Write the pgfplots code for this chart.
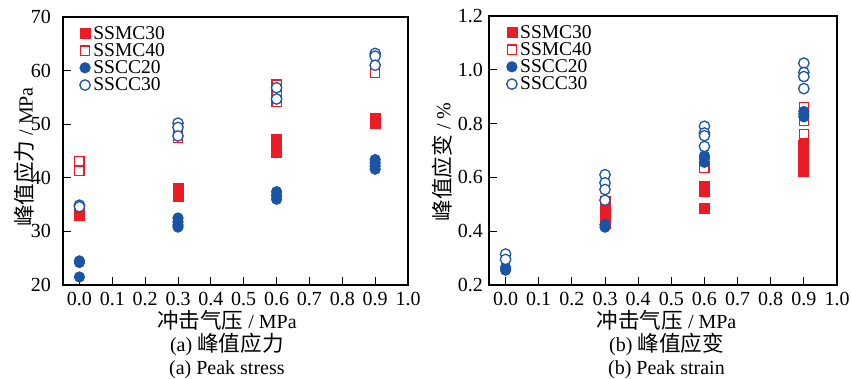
\documentclass[border=0pt]{standalone}
\usepackage{fontspec}
\setmainfont{Liberation Serif}
\newfontfamily\cjk{Noto Sans CJK SC}[Scale=1.08]
\usepackage{pgfplots}
\pgfplotsset{compat=1.18}
\newcommand\bigf{\fontsize{20bp}{24bp}\selectfont}
\newcommand\legf{\fontsize{19.5bp}{22bp}\selectfont}
\definecolor{cred}{RGB}{236,28,36}
\definecolor{cblue}{RGB}{26,84,166}
\pgfplotsset{
  myaxis/.style={
    scale only axis, clip=false,
    xmin=-0.05, xmax=1.0,
    xtick={0,0.1,0.2,0.3,0.4,0.5,0.6,0.7,0.8,0.9,1.0},
    xticklabel={\bigf\pgfmathprintnumber[fixed,fixed zerofill,precision=1,assume math mode=true]{\tick}},
    tick align=inside, xtick pos=bottom, ytick pos=left,
    major tick length=8bp,
    axis line style={line width=1.2bp},
    tick style={line width=1bp, black},
    /pgf/number format/assume math mode=true,
    tick label style={font=\bigf},
    label style={font=\bigf},
    xticklabel style={anchor=base, yshift=-20bp, inner sep=0pt},
    yticklabel style={anchor=east, inner sep=0pt},
    legend cell align=left,
    legend style={draw=none, fill=none, anchor=north west, row sep=2.8bp,
      column sep=3bp, inner sep=0pt, font=\legf, nodes={inner sep=0pt, font=\legf}},
    legend image code/.code={\draw[##1] plot coordinates {(0bp,0bp)};},
  },
  ssmc30/.style={only marks, mark=square*, mark size=5bp, mark options={fill=cred, draw=cred, line width=0.8bp}},
  ssmc40/.style={only marks, mark=square*, mark size=4.6bp, mark options={fill=white, draw=cred, line width=1.2bp}},
  sscc20/.style={only marks, mark=*, mark size=5.3bp, mark options={fill=cblue, draw=cblue, line width=0.6bp}},
  sscc30/.style={only marks, mark=*, mark size=5.2bp, mark options={fill=white, draw=cblue, line width=1.3bp}},
}
\begin{document}
\begin{tikzpicture}[font=\bigf]
\path[use as bounding box] (0,0) rectangle (851bp,379bp);
% ---------------- (a) Peak stress
\begin{axis}[myaxis,
  at={(63bp,94bp)}, anchor=south west,
  width=345bp, height=268bp,
  ymin=20, ymax=70, ytick={20,30,40,50,60,70},
  yticklabel style={xshift=-12bp},
  yticklabel={\bigf\pgfmathprintnumber[fixed,precision=0,assume math mode=true]{\tick}},
  ylabel={\bigf{\cjk 峰值应力} / MPa},
  ylabel style={at={(axis description cs:-0.1116,0.4776)}, anchor=center},
  xlabel={\bigf{\cjk 冲击气压} / MPa},
  xlabel style={at={(axis description cs:0.475,0)}, anchor=base, yshift=-43bp, inner sep=0pt},
  legend style={at={(axis description cs:0.048,0.967)}},
]
\addplot[ssmc30] coordinates {(0,32.9)(0,33.4)(0.3,38.1)(0.3,37.3)(0.3,36.6)(0.6,47.2)(0.6,46.3)(0.6,45.5)(0.6,44.8)(0.9,51.1)(0.9,50.6)(0.9,50.2)};
\addplot[ssmc40] coordinates {(0,43.1)(0,41.3)(0.3,48.5)(0.3,47.4)(0.6,57.4)(0.6,56.0)(0.6,54.1)(0.9,60.3)(0.9,59.5)};
\addplot[sscc20] coordinates {(0,24.5)(0,24.2)(0,21.5)(0.3,32.5)(0.3,31.8)(0.3,31.2)(0.3,30.8)(0.6,37.4)(0.6,36.7)(0.6,36.0)(0.9,43.4)(0.9,42.8)(0.9,42.2)(0.9,41.6)};
\addplot[sscc30] coordinates {(0,34.9)(0,34.6)(0.3,50.2)(0.3,49.4)(0.3,47.8)(0.6,56.8)(0.6,54.7)(0.9,63.2)(0.9,62.7)(0.9,61.0)};
\legend{{\legf SSMC30},{\legf SSMC40},{\legf SSCC20},{\legf SSCC30}}
\node[anchor=base, inner sep=0pt, font=\bigf] at (axis description cs:0.475,0) [yshift=-66bp] {\bigf(a) {\cjk 峰值应力}};
\node[anchor=base, inner sep=0pt, font=\bigf] at (axis description cs:0.475,0) [yshift=-89bp] {\bigf(a) Peak stress};
\end{axis}
% ---------------- (b) Peak strain
\begin{axis}[myaxis,
  at={(489bp,94bp)}, anchor=south west,
  width=348bp, height=269bp,
  ymin=0.2, ymax=1.2, ytick={0.2,0.4,0.6,0.8,1.0,1.2},
  yticklabel style={xshift=-6bp},
  yticklabel={\bigf\pgfmathprintnumber[fixed,fixed zerofill,precision=1,assume math mode=true]{\tick}},
  ylabel={\bigf{\cjk 峰值应变} / \%},
  ylabel style={at={(axis description cs:-0.135,0.457)}, anchor=center},
  xlabel={\bigf{\cjk 冲击气压} / MPa},
  xlabel style={at={(axis description cs:0.51,0)}, anchor=base, yshift=-43bp, inner sep=0pt},
  legend style={at={(axis description cs:0.05,0.967)}},
]
\addplot[ssmc30] coordinates {(0.3,0.51)(0.3,0.48)(0.3,0.455)(0.3,0.43)(0.6,0.565)(0.6,0.548)(0.6,0.486)(0.9,0.72)(0.9,0.69)(0.9,0.66)(0.9,0.64)(0.9,0.622)};
\addplot[ssmc40] coordinates {(0.6,0.635)(0.9,0.86)(0.9,0.81)(0.9,0.76)};
\addplot[sscc20] coordinates {(0,0.265)(0,0.255)(0.3,0.425)(0.3,0.415)(0.6,0.68)(0.6,0.67)(0.6,0.656)(0.9,0.845)(0.9,0.835)(0.9,0.825)};
\addplot[sscc30] coordinates {(0,0.315)(0,0.295)(0.3,0.61)(0.3,0.58)(0.3,0.555)(0.3,0.515)(0.6,0.79)(0.6,0.765)(0.6,0.755)(0.6,0.715)(0.9,1.025)(0.9,0.99)(0.9,0.975)(0.9,0.93)};
\legend{{\legf SSMC30},{\legf SSMC40},{\legf SSCC20},{\legf SSCC30}}
\node[anchor=base, inner sep=0pt, font=\bigf] at (axis description cs:0.51,0) [yshift=-66bp] {\bigf(b) {\cjk 峰值应变}};
\node[anchor=base, inner sep=0pt, font=\bigf] at (axis description cs:0.51,0) [yshift=-89bp] {\bigf(b) Peak strain};
\end{axis}
\end{tikzpicture}
\end{document}
